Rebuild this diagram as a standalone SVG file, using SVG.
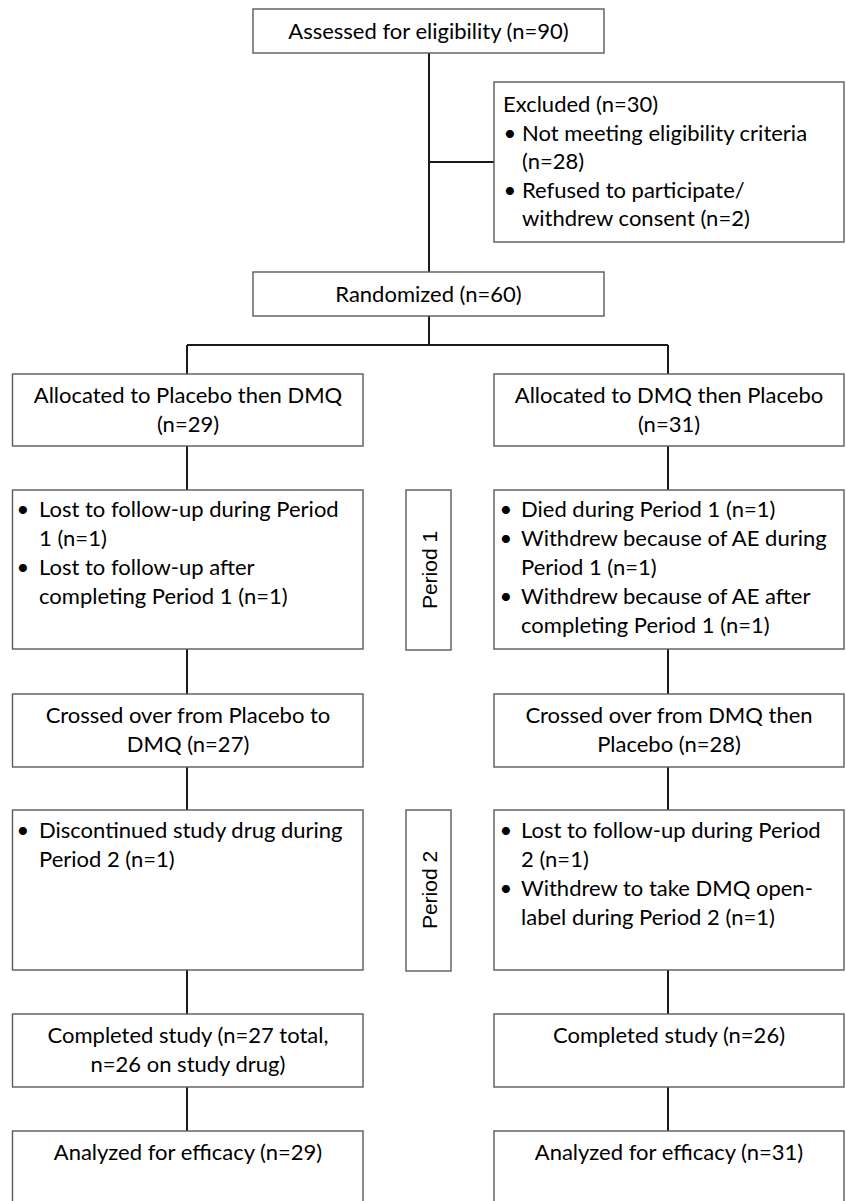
<svg xmlns="http://www.w3.org/2000/svg" width="846" height="1201" viewBox="0 0 846 1201">
<style>
.box{fill:#fff;stroke:#5a5a5a;stroke-width:1.4}
.t{font-family:Lato,"Liberation Sans",sans-serif;font-size:22px;fill:#000}
.c{text-anchor:middle}
.b{font-family:Lato,"Liberation Sans",sans-serif;font-size:22px;fill:#000;text-anchor:middle}
.p{font-family:"Liberation Sans",Arial,sans-serif;font-size:21px;fill:#000;text-anchor:middle}
.con{stroke:#1a1a1a;stroke-width:2;fill:none}
</style>
<rect width="846" height="1201" fill="#fff"/>
<g id="connectors">
<path class="con" d="M429,53V272M429,162H494M429,316V345M187,345H668M187,345V374M668,345V374"/>
<path class="con" d="M187,446V490M187,649V694M187,767V810M187,970V1014M187,1087V1131"/>
<path class="con" d="M668,446V490M668,649V694M668,767V810M668,970V1014M668,1087V1131"/>
</g>
<g id="assessed"><rect class="box" x="253" y="9" width="351" height="44"/><text class="t c" x="428.5" y="39">Assessed for eligibility (n=90)</text></g>
<g id="excluded"><rect class="box" x="494" y="82" width="350" height="160"/>
<text class="t" x="503" y="112">Excluded (n=30)</text>
<text class="b" x="510" y="140.5">•</text><text class="t" x="522" y="140.5">Not meeting eligibility criteria</text>
<text class="t" x="522" y="169">(n=28)</text>
<text class="b" x="510" y="197.5">•</text><text class="t" x="522" y="197.5">Refused to participate/</text>
<text class="t" x="522" y="226">withdrew consent (n=2)</text>
</g>
<g id="randomized"><rect class="box" x="253" y="272" width="351" height="44"/><text class="t c" x="428.5" y="302">Randomized (n=60)</text></g>
<g id="alloc-left"><rect class="box" x="12.5" y="374" width="350.5" height="72"/>
<text class="t c" x="188" y="403">Allocated to Placebo then DMQ</text><text class="t c" x="188" y="432">(n=29)</text></g>
<g id="alloc-right"><rect class="box" x="494" y="374" width="350" height="72"/>
<text class="t c" x="669" y="403">Allocated to DMQ then Placebo</text><text class="t c" x="669" y="432">(n=31)</text></g>
<g id="p1-left"><rect class="box" x="12.5" y="490" width="350.5" height="159"/>
<text class="b" x="23" y="517">•</text><text class="t" x="39" y="517">Lost to follow-up during Period</text>
<text class="t" x="39" y="546">1 (n=1)</text>
<text class="b" x="23" y="575">•</text><text class="t" x="39" y="575">Lost to follow-up after</text>
<text class="t" x="39" y="604">completing Period 1 (n=1)</text></g>
<g id="period1"><rect class="box" x="406" y="490" width="45" height="160"/><text class="p" transform="translate(436.5,570) rotate(-90)">Period 1</text></g>
<g id="p1-right"><rect class="box" x="494" y="490" width="350" height="159"/>
<text class="b" x="506" y="517">•</text><text class="t" x="521" y="517">Died during Period 1 (n=1)</text>
<text class="b" x="506" y="546">•</text><text class="t" x="521" y="546">Withdrew because of AE during</text>
<text class="t" x="521" y="575">Period 1 (n=1)</text>
<text class="b" x="506" y="604">•</text><text class="t" x="521" y="604">Withdrew because of AE after</text>
<text class="t" x="521" y="633">completing Period 1 (n=1)</text></g>
<g id="cross-left"><rect class="box" x="12.5" y="694" width="350.5" height="73"/>
<text class="t c" x="188" y="723">Crossed over from Placebo to</text><text class="t c" x="188" y="752">DMQ (n=27)</text></g>
<g id="cross-right"><rect class="box" x="494" y="694" width="350" height="73"/>
<text class="t c" x="669" y="723">Crossed over from DMQ then</text><text class="t c" x="669" y="752">Placebo (n=28)</text></g>
<g id="p2-left"><rect class="box" x="12.5" y="810" width="350.5" height="160"/>
<text class="b" x="23" y="838">•</text><text class="t" x="39" y="838">Discontinued study drug during</text>
<text class="t" x="39" y="867">Period 2 (n=1)</text></g>
<g id="period2"><rect class="box" x="406" y="810" width="45" height="161"/><text class="p" transform="translate(436.5,890) rotate(-90)">Period 2</text></g>
<g id="p2-right"><rect class="box" x="494" y="810" width="350" height="160"/>
<text class="b" x="506" y="838">•</text><text class="t" x="521" y="838">Lost to follow-up during Period</text>
<text class="t" x="521" y="867">2 (n=1)</text>
<text class="b" x="506" y="896">•</text><text class="t" x="521" y="896">Withdrew to take DMQ open-</text>
<text class="t" x="521" y="925">label during Period 2 (n=1)</text></g>
<g id="completed-left"><rect class="box" x="12.5" y="1014" width="350.5" height="73"/>
<text class="t c" x="188" y="1043">Completed study (n=27 total,</text><text class="t c" x="188" y="1072">n=26 on study drug)</text></g>
<g id="completed-right"><rect class="box" x="494" y="1014" width="350" height="73"/>
<text class="t c" x="669" y="1043">Completed study (n=26)</text></g>
<g id="analyzed-left"><rect class="box" x="12.5" y="1131" width="350.5" height="80"/>
<text class="t c" x="188" y="1160">Analyzed for efficacy (n=29)</text></g>
<g id="analyzed-right"><rect class="box" x="494" y="1131" width="350" height="80"/>
<text class="t c" x="669" y="1160">Analyzed for efficacy (n=31)</text></g>
</svg>
